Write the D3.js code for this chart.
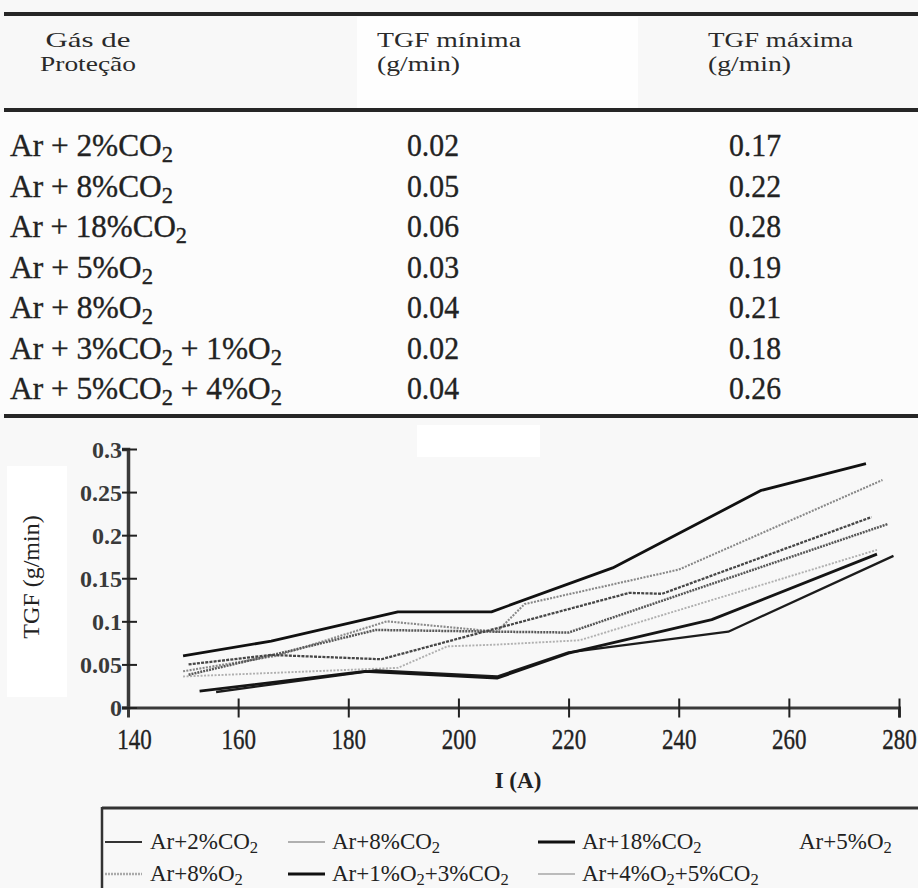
<!DOCTYPE html>
<html><head><meta charset="utf-8">
<script src="https://cdn.jsdelivr.net/npm/d3@7"></script>
<style>html,body{margin:0;padding:0;background:#f9f9f9;} svg{display:block;}</style>
</head><body><svg id="c" width="918" height="888"></svg>
<script>
// ---------------- data ----------------
const gasNames = ["Ar + 2%CO_2","Ar + 8%CO_2","Ar + 18%CO_2","Ar + 5%O_2","Ar + 8%O_2","Ar + 3%CO_2 + 1%O_2","Ar + 5%CO_2 + 4%O_2"];
const tgfMin = ["0.02","0.05","0.06","0.03","0.04","0.02","0.04"];
const tgfMax = ["0.17","0.22","0.28","0.19","0.21","0.18","0.26"];
const headerCol1 = ["Gás de","Proteção"];
const headerCol2 = ["TGF mínima","(g/min)"];
const headerCol3 = ["TGF máxima","(g/min)"];

const xTicks = [140,160,180,200,220,240,260,280];
const yTicks = [0,0.05,0.1,0.15,0.2,0.25,0.3];
const yTickLabels = ["0","0.05","0.1","0.15","0.2","0.25","0.3"];
const xTitle = "I (A)";
const yTitle = "TGF (g/min)";

// series (current in A, TGF in g/min)
const ar2co2I = [156,185,207,220,249,279];
const ar2co2TGF = [0.018,0.043,0.036,0.064,0.088,0.176];
const ar8co2I = [151,166,186,231,237,275];
const ar8co2TGF = [0.050,0.061,0.056,0.133,0.132,0.221];
const ar18co2I = [150,166,189,206,228,255,274];
const ar18co2TGF = [0.060,0.077,0.111,0.111,0.162,0.252,0.283];
const ar5o2I = [150,189,198,207,222,276];
const ar5o2TGF = [0.036,0.046,0.071,0.073,0.078,0.183];
const ar8o2I = [151,167,185,207,220,278];
const ar8o2TGF = [0.038,0.062,0.090,0.088,0.087,0.213];
const ar3co21o2I = [153,183,207,220,246,276];
const ar3co21o2TGF = [0.019,0.042,0.034,0.063,0.102,0.178];
const ar5co24o2I = [150,167,187,207,212,240,277];
const ar5co24o2TGF = [0.042,0.060,0.100,0.088,0.120,0.160,0.264];

const legendLabels = ["Ar+2%CO_2","Ar+8%CO_2","Ar+18%CO_2","Ar+5%O_2","Ar+8%O_2","Ar+1%O_2+3%CO_2","Ar+4%O_2+5%CO_2"];

// ---------------- styles / layout ----------------
const serif = "'Liberation Serif','Times New Roman',serif";
const seriesStyle = [
  {stroke:"#1c1c1c", w:2.3, dash:null},          // Ar+2%CO2
  {stroke:"#474747", w:2.3, dash:"3,1.2"},       // Ar+8%CO2
  {stroke:"#111",    w:2.8, dash:null},          // Ar+18%CO2
  {stroke:"#b0b0b0", w:1.9, dash:"2,1.5"},       // Ar+5%O2
  {stroke:"#585858", w:2.5, dash:"2,1"},         // Ar+8%O2
  {stroke:"#151515", w:2.8, dash:null},          // Ar+1%O2+3%CO2
  {stroke:"#888",    w:2.1, dash:"2,1.3"}        // Ar+4%O2+5%CO2
];
const legendSample = [
  {stroke:"#333", w:2},
  {stroke:"#999", w:1.6},
  {stroke:"#111", w:3.2},
  null,
  {stroke:"#aaa", w:2.6, dash:"2,1"},
  {stroke:"#111", w:3.2},
  {stroke:"#bbb", w:2.2}
];
const nameWidths = [163,163,177,143,143,272,272];

const svg = d3.select("#c");

function addRich(t, str, fs, drop){
  const parts = str.split(/_(\d)/);
  let pending = 0;
  const d = fs*(drop||0.22);
  parts.forEach((p,i)=>{
    if(p==="") return;
    const ts = t.append("tspan").text(p);
    if(i%2===1){ ts.attr("font-size", fs*0.72).attr("dy", d - pending); pending = d; }
    else if(pending){ ts.attr("dy", -pending); pending = 0; }
  });
}

// background patches (scan artefacts)
svg.append("rect").attr("x",0).attr("y",0).attr("width",918).attr("height",888).attr("fill","#f8f8f8");
svg.append("rect").attr("x",357).attr("y",17).attr("width",281).attr("height",92).attr("fill","#fefefe");
svg.append("rect").attr("x",0).attr("y",112).attr("width",918).attr("height",302).attr("fill","#fcfcfc");
svg.append("rect").attr("x",417).attr("y",425).attr("width",123).attr("height",32).attr("fill","#fff");
svg.append("rect").attr("x",7).attr("y",466).attr("width",60).attr("height",231).attr("fill","#fff");

// ---------------- table ----------------
const ruleY = [14, 110, 416];
ruleY.forEach(yy=>{
  svg.append("line").attr("x1",4).attr("x2",918).attr("y1",yy).attr("y2",yy)
    .attr("stroke","#262626").attr("stroke-width",3.8);
});
const hdrBase = [47, 71];
const hdrFs = 21;
const hdrCols = [
  {lines:headerCol1, x:88, anchor:"middle", widths:[85,96]},
  {lines:headerCol2, x:377, anchor:"start", widths:[144,83]},
  {lines:headerCol3, x:708, anchor:"start", widths:[145,83]}
];
hdrCols.forEach(c=>{
  c.lines.forEach((s,i)=>{
    svg.append("text").attr("x",c.x).attr("y",hdrBase[i]).attr("text-anchor",c.anchor)
      .attr("font-family",serif).attr("font-size",hdrFs).attr("fill","#2a2a2a")
      .attr("textLength",c.widths[i]).attr("lengthAdjust","spacingAndGlyphs").text(s);
  });
});
const rowFs = 31;
gasNames.forEach((g,i)=>{
  const yy = 156 + i*40.5;
  const t = svg.append("text").attr("x",10).attr("y",yy).attr("font-family",serif)
    .attr("font-size",rowFs).attr("fill","#222").attr("stroke","#222").attr("stroke-width",0.35)
    .attr("textLength",nameWidths[i]).attr("lengthAdjust","spacingAndGlyphs");
  addRich(t, g, rowFs, 0.2);
  svg.append("text").attr("x",433).attr("y",yy).attr("text-anchor","middle").attr("font-family",serif)
    .attr("font-size",rowFs).attr("fill","#222").attr("stroke","#222").attr("stroke-width",0.35)
    .attr("textLength",52).attr("lengthAdjust","spacingAndGlyphs").text(tgfMin[i]);
  svg.append("text").attr("x",755).attr("y",yy).attr("text-anchor","middle").attr("font-family",serif)
    .attr("font-size",rowFs).attr("fill","#222").attr("stroke","#222").attr("stroke-width",0.35)
    .attr("textLength",52).attr("lengthAdjust","spacingAndGlyphs").text(tgfMax[i]);
});

// ---------------- chart ----------------
const X0=128, X1=899, Y0=707.5, Y1=449;
const x = d3.scaleLinear().domain([140,280]).range([X0,X1]);
const y = d3.scaleLinear().domain([0,0.3]).range([Y0,Y1]);

const gx = svg.append("g").attr("transform",`translate(0,${Y0})`)
  .call(d3.axisBottom(x).tickValues(xTicks).tickSizeOuter(0).tickSize(10).tickFormat(d3.format("d")));
gx.attr("font-family",serif).attr("font-size",23);
gx.select(".domain").attr("stroke","#3a3a3a").attr("stroke-width",3);
gx.selectAll(".tick line").attr("y1",-9).attr("y2",10).attr("stroke","#222").attr("stroke-width",2);
gx.selectAll(".tick text").attr("y",42/1.25).attr("dy",0).attr("transform","scale(1,1.25)")
  .attr("fill","#222").attr("stroke","#222").attr("stroke-width",0.3);
gx.selectAll(".tick").filter(d=>d===140).select("line").remove();
gx.selectAll(".tick").filter(d=>d===140).select("text").attr("x",6);

const gy = svg.append("g").attr("transform",`translate(${X0},0)`)
  .call(d3.axisLeft(y).tickValues(yTicks).tickFormat((d,i)=>yTickLabels[i]).tickSizeOuter(0).tickSize(6));
gy.attr("font-family",serif).attr("font-size",24);
gy.select(".domain").attr("stroke","#3a3a3a").attr("stroke-width",3.5);
gy.selectAll(".tick line").attr("x1",9).attr("x2",-6).attr("stroke","#222").attr("stroke-width",2);
gy.selectAll(".tick text").attr("x",-6).attr("dy","0.35em").attr("font-weight","bold").attr("fill","#3a3a3a");

const seriesI = [ar2co2I, ar8co2I, ar18co2I, ar5o2I, ar8o2I, ar3co21o2I, ar5co24o2I];
const seriesV = [ar2co2TGF, ar8co2TGF, ar18co2TGF, ar5o2TGF, ar8o2TGF, ar3co21o2TGF, ar5co24o2TGF];
const line = d3.line().x(d=>x(d[0])).y(d=>y(d[1]));
const drawOrder = [3,6,4,1,0,5,2];
drawOrder.forEach(k=>{
  const pts = seriesI[k].map((v,j)=>[v, seriesV[k][j]]);
  const st = seriesStyle[k];
  svg.append("path").attr("d",line(pts)).attr("fill","none").attr("stroke",st.stroke)
    .attr("stroke-width",st.w).attr("stroke-linejoin","round")
    .attr("stroke-dasharray",st.dash);
});

// titles
svg.append("text").attr("x",518).attr("y",788).attr("text-anchor","middle").attr("font-family",serif)
  .attr("font-size",23).attr("font-weight","bold").attr("fill","#222").text(xTitle);
svg.append("text").attr("transform","translate(39,577) rotate(-90)").attr("text-anchor","middle")
  .attr("font-family",serif).attr("font-size",24).attr("fill","#222").text(yTitle);

// ---------------- legend ----------------
svg.append("line").attr("x1",102).attr("x2",918).attr("y1",808).attr("y2",808).attr("stroke","#333").attr("stroke-width",3);
svg.append("line").attr("x1",102).attr("x2",102).attr("y1",807).attr("y2",888).attr("stroke","#333").attr("stroke-width",2.5);
const legSampleX = [105,288,538,null];
const legTextX = [150,332,582,799];
const legRowY = [842,874];
const legFs = 23;
legendLabels.forEach((lab,i)=>{
  const row = i<4?0:1, col = i<4?i:i-4;
  const cy = legRowY[row];
  const smp = legendSample[i];
  if(smp && legSampleX[col]!==null){
    svg.append("line").attr("x1",legSampleX[col]).attr("x2",legSampleX[col]+37).attr("y1",cy).attr("y2",cy)
      .attr("stroke",smp.stroke).attr("stroke-width",smp.w).attr("stroke-dasharray",smp.dash||null);
  }
  const t = svg.append("text").attr("x",legTextX[col]).attr("y",cy+7).attr("font-family",serif)
    .attr("font-size",legFs).attr("fill","#222");
  addRich(t, lab, legFs, 0.16);
});
</script></body></html>
